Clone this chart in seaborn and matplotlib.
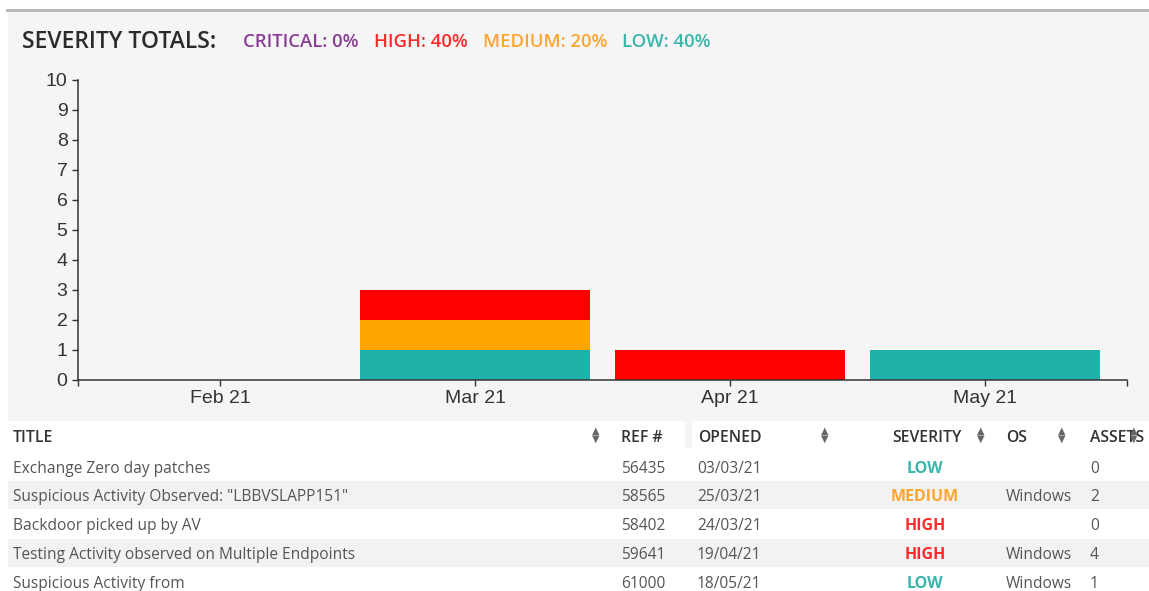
import pandas as pd
import seaborn as sns
import matplotlib.pyplot as plt
from matplotlib.patches import Rectangle

# chart data (incidents per month by severity)
months = ["Feb 21", "Mar 21", "Apr 21", "May 21"]
critical = [0, 0, 0, 0]
high = [0, 1, 1, 0]
medium = [0, 1, 0, 0]
low = [0, 1, 0, 1]

# incident table
titles = [
    "Exchange Zero day patches",
    'Suspicious Activity Observed: "LBBVSLAPP151"',
    "Backdoor picked up by AV",
    "Testing Activity observed on Multiple Endpoints",
    "Suspicious Activity from",
]
refs = ["56435", "58565", "58402", "59641", "61000"]
opened = ["03/03/21", "25/03/21", "24/03/21", "19/04/21", "18/05/21"]
severity = ["LOW", "MEDIUM", "HIGH", "HIGH", "LOW"]
os_names = ["", "Windows", "", "Windows", "Windows"]
assets = ["0", "2", "0", "4", "1"]

bar_colors = {"critical": "#8e3a96", "high": "#ff0000", "medium": "#ffa500", "low": "#20b2aa"}
text_colors = {"CRITICAL": "#8a3d94", "HIGH": "#ff2b2b", "MEDIUM": "#ffa531", "LOW": "#3cb5ab"}

W, H = 1149, 591


def fx(x):
    return x / W


def fy(y):
    return 1 - y / H


sns.set_style("ticks")
plt.rcParams["font.family"] = ["Liberation Sans", "DejaVu Sans"]
ui_font = ["Open Sans", "DejaVu Sans"]

fig = plt.figure(figsize=(W / 100, H / 100), dpi=100)
fig.patch.set_facecolor("white")


def band(x0, y0, x1, y1, color):
    fig.add_artist(Rectangle((fx(x0), fy(y1)), fx(x1) - fx(x0), fy(y0) - fy(y1),
                             transform=fig.transFigure, facecolor=color,
                             edgecolor="none", zorder=-10))


# panel, top rule, striped table rows
band(8, 12, W, 421, "#f5f5f5")
band(6, 9, W, 12, "#b8b8b8")
band(685, 421, 692, 448, "#f5f5f5")
row_y = [467, 495, 524, 553, 582]
for i in (1, 3):
    band(8, row_y[i] - 14, W, row_y[i] + 14, "#f2f2f2")

# stacked bars
df = pd.DataFrame({"month": months, "critical": critical, "high": high,
                   "medium": medium, "low": low})
stack = ["low", "medium", "high", "critical"]
cum = df[stack].cumsum(axis=1)

ax = fig.add_axes([fx(78), fy(380), fx(1127) - fx(78), fy(80) - fy(380)])
ax.set_facecolor("none")
for key in reversed(stack):
    df["top"] = cum[key]
    sns.barplot(data=df, x="month", y="top", order=months, color=bar_colors[key],
                saturation=1, width=0.9, linewidth=0, errorbar=None, ax=ax)

pad = 14.5 / 255
ax.set_xlim(-0.5 - pad, len(months) - 0.5 + pad)
ax.set_ylim(0, 10)
ax.set_yticks(range(11))
ax.set_xticks(ax.get_xlim(), minor=True)
ax.set_xlabel("")
ax.set_ylabel("")
sns.despine(ax=ax)
for s in ("left", "bottom"):
    ax.spines[s].set_color("#333333")
    ax.spines[s].set_linewidth(1.1)
ax.tick_params(which="both", direction="out", length=4.5, width=1, color="#333333",
               labelsize=14, labelcolor="#333333", pad=3)

# header line
fig.text(fx(22), fy(48), "SEVERITY TOTALS:", fontsize=16.5, color="#2b2b2b",
         family=ui_font, weight="semibold", va="baseline")
total = sum(critical) + sum(high) + sum(medium) + sum(low)
pct = {"CRITICAL": critical, "HIGH": high, "MEDIUM": medium, "LOW": low}
for x, (name, vals) in zip([243, 374, 483, 622], pct.items()):
    fig.text(fx(x), fy(47), f"{name}: {round(100 * sum(vals) / total)}%", fontsize=13.3,
             color=text_colors[name], family=ui_font, weight="semibold", va="baseline")

# table header
headers = [("TITLE", 13), ("REF #", 621), ("OPENED", 698), ("SEVERITY", 892),
           ("OS", 1006), ("ASSETS", 1090)]
for label, x in headers:
    fig.text(fx(x), fy(436), label, fontsize=11.3, color="#333333", family=ui_font,
             weight="semibold", va="center_baseline")
for x in [596, 825, 981, 1062, 1134]:
    fig.text(fx(x), fy(435), "▲\n▼", fontsize=7, color="#666666", ha="center", va="center",
             linespacing=0.75, family=["DejaVu Sans"])

# table rows
for i, y in enumerate(row_y):
    kw = dict(fontsize=11.2, color="#555555", family=ui_font, va="center_baseline")
    fig.text(fx(13), fy(y), titles[i], **kw)
    fig.text(fx(621), fy(y), refs[i], **kw)
    fig.text(fx(697), fy(y), opened[i], **kw)
    fig.text(fx(1006), fy(y), os_names[i], **kw)
    fig.text(fx(1090), fy(y), assets[i], **kw)
    fig.text(fx(925), fy(y), severity[i], fontsize=11.5, color=text_colors[severity[i]],
             family=ui_font, weight="bold", ha="center", va="center_baseline")

fig.savefig("out.png", dpi=100)
